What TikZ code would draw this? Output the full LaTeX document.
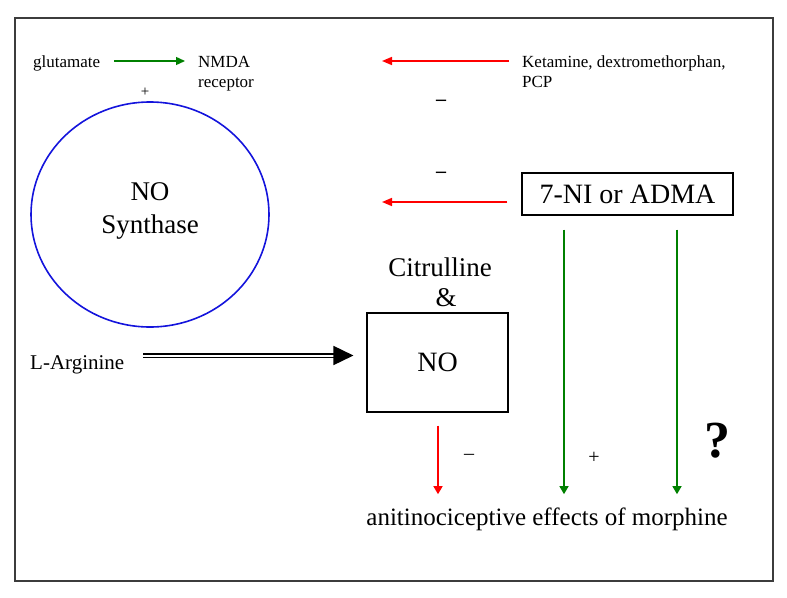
\documentclass[tikz,border=0pt]{standalone}
\usepackage{fontspec}
\setmainfont{Liberation Serif}
\usetikzlibrary{arrows.meta,shapes.geometric}
\definecolor{gr}{RGB}{0,128,0}
\definecolor{rd}{RGB}{255,0,0}
\definecolor{bl}{RGB}{20,20,220}
\definecolor{fr}{RGB}{60,60,60}
\tikzset{
  txt/.style={inner sep=0pt, text=black},
  small/.style={txt, font=\fontsize{17}{20}\selectfont},
  big/.style={txt, font=\fontsize{27}{33}\selectfont},
  garrow/.style={draw=gr, line width=1.4pt, -{Triangle[length=9pt,width=8pt]}},
  rarrow/.style={draw=rd, line width=1.6pt, -{Triangle[length=10pt,width=8pt]}},
  gvarrow/.style={draw=gr, line width=1.3pt, -{Triangle[length=8pt,width=9pt]}},
  rvarrow/.style={draw=rd, line width=1.5pt, -{Triangle[length=8pt,width=9pt]}},
  sign/.style={txt, font=\fontsize{20}{22}\selectfont},
  boxnode/.style={draw=black, line width=1.1pt, inner sep=0pt},
}
\begin{document}
\begin{tikzpicture}[x=1pt,y=-1pt]
\useasboundingbox (0,0) rectangle (787,597);
\draw[fr, line width=1.6pt] (15,18) rectangle (773,581);

% top row
\node[small, anchor=base west] (glut) at (33,67) {glutamate};
\node[small, anchor=north west, align=left] (nmda) at (198,56) {NMDA\\receptor};
\node[small, anchor=north west, align=left] (ket) at (522,56) {Ketamine, dextromethorphan,\\PCP};
\coordinate (ga) at (114,61);
\coordinate (gb) at (185,61);
\draw[garrow] (ga) -- (gb);
\coordinate (t1) at (382,61);
\draw[rarrow, shorten <=13pt] (t1 -| ket.west) -- (t1);

\node[txt, font=\fontsize{15}{16}\selectfont] (plus1) at (145,92) {+};
\node[sign, font=\fontsize{20}{22}\selectfont\bfseries] (m1) at (441,103) {–};
\node[sign, font=\fontsize{20}{22}\selectfont\bfseries] (m2) at (441,175) {–};

% NO synthase
\node[draw=bl, line width=1.6pt, ellipse, minimum width=238pt, minimum height=225pt, inner sep=0pt] (nos) at (150,214.5) {};
\node[big, align=center] (nostxt) at (150,211) {NO\\Synthase};

% 7-NI box
\node[boxnode, minimum width=211pt, minimum height=42pt, font=\fontsize{28}{30}\selectfont] (ni) at (627.5,194) {7-NI or ADMA};
\coordinate (t2) at (382,202);
\draw[rarrow, shorten <=14pt] (t2 -| ni.west) -- (t2);

% Citrulline & NO
\node[big] (cit) at (440,267) {Citrulline};
\node[big] (amp) at (446,298) {\&};
\node[boxnode, minimum width=141pt, minimum height=99pt, font=\fontsize{28}{30}\selectfont] (nobox) at (437.5,362.5) {NO};

% L-Arginine
\node[txt, font=\fontsize{21}{24}\selectfont, anchor=base west] (larg) at (30,369) {L-Arginine};
\coordinate (da) at (143,355.5);
\draw[line width=1.6pt, double=white, double distance=2pt, shorten >=13pt,
      -{Triangle[length=20pt,width=19pt]}] (da) -- (da -| nobox.west);

% bottom
\node[txt, font=\fontsize{25}{28}\selectfont, anchor=base] (eff) at (547,525) {anitinociceptive effects of morphine};
\coordinate (x1) at (564,0);
\coordinate (x2) at (677,0);
\coordinate (x3) at (438,0);
\draw[gvarrow, shorten <=14pt, shorten >=13pt] (ni.south -| x1) -- (eff.north -| x1);
\draw[gvarrow, shorten <=14pt, shorten >=13pt] (ni.south -| x2) -- (eff.north -| x2);
\draw[rvarrow, shorten <=13pt, shorten >=13pt] (nobox.south -| x3) -- (eff.north -| x3);

\node[sign] (m3) at (469,457) {–};
\node[sign] (p2) at (594,458) {+};
\node[txt, font=\fontsize{52}{56}\selectfont\bfseries] (q) at (717,441) {?};
\end{tikzpicture}
\end{document}
